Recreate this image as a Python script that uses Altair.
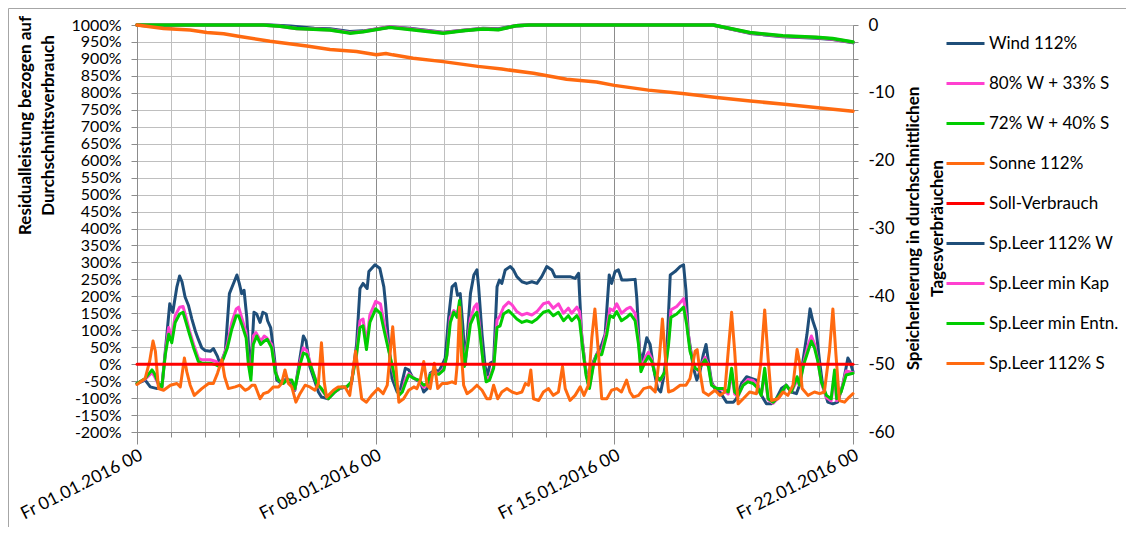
import json
import altair as alt
import pandas as pd

SERIES = ["Wind 112%", "80% W + 33% S", "72% W + 40% S", "Sonne 112%", "Soll-Verbrauch",
          "Sp.Leer 112% W", "Sp.Leer min Kap", "Sp.Leer min Entn.", "Sp.Leer 112% S"]
COLORS = ["#1F4E79", "#FF40D0", "#00CC00", "#FF6A10", "#FF0000",
          "#1F4E79", "#FF40D0", "#00CC00", "#FF6A10"]
X_LABELS = ["Fr 01.01.2016 00", "Fr 08.01.2016 00", "Fr 15.01.2016 00", "Fr 22.01.2016 00"]
X_TICKS = list(range(0, 22))
LEFT_TICKS = list(range(-200, 1001, 50))
RIGHT_TICKS = [-60, -57.5, -55, -52.5, -50, -47.5, -45, -42.5, -40, -37.5, -35, -32.5, -30,
               -27.5, -25, -22.5, -20, -17.5, -15, -12.5, -10, -7.5, -5, -2.5, 0]

# (day since 01.01.2016 00:00, residual load in %)
WIND_112 = [(0, -57), (0.24, -47), (0.39, -67), (0.59, -72), (0.73, -67), (0.83, 38), (0.96, 178), (1.05, 153),
            (1.17, 228), (1.25, 260), (1.32, 243), (1.41, 198), (1.51, 173), (1.61, 133), (1.71, 98), (1.8, 73),
            (1.9, 48), (2.0, 40), (2.15, 38), (2.24, 46), (2.36, 23), (2.44, -2), (2.59, 38), (2.71, 208),
            (2.83, 238), (2.93, 263), (3.0, 238), (3.07, 208), (3.14, 218), (3.22, 138), (3.3, 8), (3.34, -12),
            (3.43, 153), (3.51, 148), (3.61, 123), (3.69, 153), (3.79, 148), (3.83, 128), (3.92, 108), (4.02, 28),
            (4.1, -47), (4.24, -57), (4.39, -42), (4.54, -57), (4.63, -77), (4.78, 18), (4.88, 83), (4.96, 68),
            (5.07, -7), (5.22, -52), (5.32, -82), (5.41, -97), (5.61, -102), (5.8, -82), (5.95, -72), (6.15, -67),
            (6.29, -57), (6.44, 58), (6.54, 223), (6.63, 238), (6.75, 223), (6.8, 273), (6.98, 293), (7.12, 283),
            (7.24, 228), (7.29, 178), (7.39, 48), (7.48, -42), (7.63, -82), (7.73, -72), (7.87, -12), (7.97, -17),
            (8.07, -37), (8.2, -47), (8.31, -52), (8.41, -82), (8.51, -72), (8.6, -27), (8.75, -17), (8.85, -22),
            (8.95, -2), (9.04, 18), (9.14, 138), (9.24, 228), (9.34, 238), (9.4, 203), (9.48, 208), (9.56, 108),
            (9.63, -2), (9.7, 98), (9.78, 208), (9.88, 263), (9.97, 278), (10.02, 228), (10.12, 88), (10.21, -7),
            (10.28, -32), (10.36, 3), (10.46, 8), (10.56, 228), (10.63, 248), (10.7, 238), (10.8, 278), (10.95, 288),
            (11.04, 278), (11.14, 258), (11.29, 243), (11.43, 238), (11.58, 243), (11.73, 238), (11.87, 258),
            (12.02, 288), (12.17, 278), (12.26, 258), (12.41, 258), (12.56, 258), (12.7, 258), (12.85, 253),
            (12.95, 268), (13.04, 88), (13.14, -2), (13.24, -62), (13.39, 8), (13.48, 28), (13.63, 58), (13.73, 88),
            (13.85, 263), (13.92, 238), (14.02, 273), (14.12, 278), (14.22, 248), (14.37, 248), (14.61, 250),
            (14.66, 193), (14.74, 38), (14.81, 8), (14.95, 78), (15.05, 58), (15.15, -12), (15.27, -72), (15.36, -82),
            (15.44, -42), (15.54, 38), (15.64, 263), (15.78, 273), (15.93, 288), (16.03, 293), (16.1, 218),
            (16.17, 88), (16.32, -12), (16.42, -47), (16.51, -22), (16.61, 28), (16.69, 58), (16.76, 8), (16.85, -52),
            (16.95, -72), (17.1, -82), (17.29, -112), (17.49, -112), (17.58, -102), (17.73, -57), (17.88, -37),
            (18.02, -42), (18.17, -47), (18.26, -82), (18.46, -117), (18.6, -117), (18.75, -102), (18.9, -72),
            (19.04, -62), (19.19, -82), (19.34, -87), (19.43, -62), (19.53, 8), (19.65, 88), (19.74, 163),
            (19.82, 128), (19.92, 98), (20.02, 8), (20.11, -62), (20.26, -112), (20.41, -117), (20.55, -112),
            (20.7, -62), (20.85, 18), (20.91, 8), (21.0, -22)]

MIX_80W_33S = [(0, -57), (0.24, -44), (0.44, -25), (0.51, -35), (0.63, -60), (0.73, -68), (0.83, 33), (0.93, 108),
               (1.02, 78), (1.12, 143), (1.25, 168), (1.35, 170), (1.44, 138), (1.54, 98), (1.66, 58), (1.8, 18),
               (1.9, 13), (2.15, 13), (2.32, 8), (2.42, -2), (2.54, 23), (2.65, 58), (2.78, 123), (2.91, 163),
               (2.98, 168), (3.07, 138), (3.2, 93), (3.27, 3), (3.34, -32), (3.41, 83), (3.49, 93), (3.63, 68),
               (3.73, 83), (3.8, 78), (3.95, 58), (4.05, -17), (4.15, -47), (4.29, -57), (4.39, -45), (4.54, -50),
               (4.63, -74), (4.78, 5), (4.88, 48), (4.98, 40), (5.12, -10), (5.27, -55), (5.41, -75), (5.61, -102),
               (5.8, -82), (6.0, -68), (6.15, -67), (6.29, -54), (6.44, 35), (6.54, 128), (6.63, 133), (6.73, 60),
               (6.83, 145), (7.0, 185), (7.14, 178), (7.24, 125), (7.34, 70), (7.48, -10), (7.68, -88), (7.78, -80),
               (7.87, -45), (7.97, -28), (8.12, -42), (8.26, -48), (8.41, -68), (8.51, -62), (8.6, -30), (8.75, -24),
               (8.85, -28), (9.0, -12), (9.09, 25), (9.19, 138), (9.29, 158), (9.39, 148), (9.46, 175), (9.53, 88),
               (9.6, -5), (9.7, 70), (9.78, 135), (9.89, 168), (9.97, 178), (10.05, 110), (10.15, 5), (10.24, -45),
               (10.34, -38), (10.46, -8), (10.56, 130), (10.65, 143), (10.75, 168), (10.9, 183), (11.0, 175),
               (11.14, 155), (11.29, 145), (11.43, 150), (11.58, 145), (11.73, 155), (11.92, 178), (12.07, 183),
               (12.21, 165), (12.36, 178), (12.51, 150), (12.65, 165), (12.75, 150), (12.9, 168), (12.98, 155),
               (13.07, 58), (13.17, -25), (13.27, -68), (13.39, 2), (13.48, 30), (13.63, 38), (13.78, 105),
               (13.87, 163), (13.97, 158), (14.07, 178), (14.21, 150), (14.36, 163), (14.47, 168), (14.61, 150),
               (14.71, 70), (14.78, -10), (14.91, 20), (15.0, 35), (15.1, 15), (15.2, -28), (15.34, -50),
               (15.49, -22), (15.59, 70), (15.66, 160), (15.83, 170), (16.03, 193), (16.12, 135), (16.22, 45),
               (16.37, -12), (16.46, -20), (16.56, 0), (16.66, 20), (16.76, -3), (16.85, -58), (17.0, -72),
               (17.19, -75), (17.34, -88), (17.44, -25), (17.53, -88), (17.63, -95), (17.78, -60), (17.92, -45),
               (18.07, -48), (18.22, -65), (18.31, -92), (18.41, -25), (18.51, -105), (18.66, -115), (18.85, -95),
               (19.04, -62), (19.19, -82), (19.36, -48), (19.43, -62), (19.55, 2), (19.68, 55), (19.78, 83),
               (19.87, 60), (19.97, 10), (20.07, -55), (20.22, -98), (20.36, -108), (20.46, -30), (20.52, -108),
               (20.65, -80), (20.8, -20), (21.0, -25)]

MIX_72W_40S = [(0, -57), (0.24, -42), (0.44, -17), (0.51, -27), (0.63, -57), (0.73, -67), (0.83, 28), (0.93, 88),
               (1.02, 63), (1.12, 123), (1.25, 148), (1.35, 153), (1.44, 123), (1.54, 88), (1.66, 48), (1.8, 8),
               (1.9, 3), (2.15, 3), (2.32, -2), (2.42, -7), (2.54, 18), (2.65, 48), (2.78, 103), (2.91, 143),
               (2.98, 143), (3.07, 118), (3.2, 78), (3.27, -2), (3.34, -47), (3.41, 58), (3.51, 83), (3.63, 58),
               (3.73, 68), (3.82, 73), (3.95, 48), (4.05, -22), (4.15, -47), (4.29, -57), (4.39, -47), (4.54, -47),
               (4.63, -72), (4.78, -2), (4.88, 33), (4.98, 28), (5.12, -12), (5.27, -57), (5.41, -72), (5.61, -102),
               (5.8, -82), (6.0, -67), (6.15, -67), (6.29, -52), (6.44, 28), (6.54, 108), (6.63, 113), (6.73, 43),
               (6.83, 123), (7.0, 163), (7.14, 150), (7.24, 103), (7.34, 58), (7.48, -2), (7.68, -92), (7.78, -82),
               (7.87, -57), (7.97, -32), (8.12, -42), (8.26, -47), (8.41, -62), (8.51, -57), (8.6, -32), (8.75, -27),
               (8.85, -30), (9.0, -17), (9.09, 28), (9.19, 123), (9.29, 153), (9.39, 138), (9.46, 188), (9.53, 78),
               (9.6, -7), (9.7, 58), (9.78, 118), (9.89, 143), (9.97, 153), (10.05, 98), (10.15, 8), (10.24, -52),
               (10.34, -47), (10.46, -12), (10.56, 108), (10.65, 113), (10.75, 148), (10.9, 158), (11.0, 148),
               (11.14, 133), (11.29, 123), (11.43, 128), (11.58, 123), (11.73, 133), (11.92, 153), (12.07, 158),
               (12.21, 143), (12.36, 153), (12.51, 128), (12.65, 143), (12.75, 128), (12.9, 143), (12.98, 128),
               (13.07, 48), (13.17, -32), (13.27, -72), (13.39, -2), (13.48, 28), (13.63, 28), (13.78, 88),
               (13.87, 143), (13.97, 138), (14.07, 155), (14.21, 128), (14.36, 138), (14.47, 148), (14.61, 128),
               (14.71, 58), (14.78, -22), (14.91, 8), (15.0, 23), (15.1, 8), (15.2, -32), (15.34, -47), (15.49, -22),
               (15.59, 58), (15.66, 138), (15.83, 148), (16.03, 168), (16.12, 118), (16.22, 38), (16.37, -12),
               (16.46, -17), (16.56, -2), (16.66, 13), (16.76, -7), (16.85, -62), (17.0, -72), (17.19, -72),
               (17.34, -82), (17.44, -12), (17.53, -82), (17.63, -92), (17.78, -62), (17.92, -52), (18.07, -57),
               (18.22, -72), (18.31, -92), (18.41, -12), (18.51, -102), (18.66, -112), (18.85, -92), (19.04, -62),
               (19.19, -82), (19.36, -37), (19.43, -62), (19.55, -2), (19.68, 38), (19.78, 68), (19.87, 48),
               (19.97, 8), (20.07, -52), (20.22, -92), (20.36, -102), (20.46, -17), (20.52, -102), (20.65, -82),
               (20.8, -32), (21.0, -27)]

SONNE_112 = [(0, -60), (0.24, -42), (0.37, 8), (0.47, 68), (0.54, 38), (0.63, -72), (0.78, -77), (0.98, -62),
             (1.17, -57), (1.27, -67), (1.39, 18), (1.46, -22), (1.56, -62), (1.68, -92), (1.9, -72), (2.1, -57),
             (2.24, -57), (2.36, -27), (2.49, 13), (2.57, -37), (2.68, -72), (2.88, -67), (3.02, -62), (3.17, -77),
             (3.27, -72), (3.37, -62), (3.46, -62), (3.61, -102), (3.71, -87), (3.85, -82), (4.0, -67), (4.15, -67),
             (4.24, -57), (4.34, -17), (4.44, -57), (4.54, -67), (4.66, -112), (4.78, -87), (4.93, -62), (5.07, -67),
             (5.22, -77), (5.32, -57), (5.41, 63), (5.49, -52), (5.56, -97), (5.76, -77), (5.9, -67), (6.1, -67),
             (6.24, -92), (6.34, -17), (6.41, 38), (6.49, -22), (6.59, -102), (6.73, -112), (6.88, -92), (7.07, -72),
             (7.22, -87), (7.34, -62), (7.43, 38), (7.5, 110), (7.58, 8), (7.68, -112), (7.82, -102), (7.97, -77),
             (8.12, -67), (8.21, -72), (8.31, -47), (8.41, 8), (8.51, -62), (8.6, -72), (8.72, 3), (8.82, -72),
             (8.95, -57), (9.09, -57), (9.24, -52), (9.34, -57), (9.4, 8), (9.46, 168), (9.51, 38), (9.58, -62),
             (9.68, -87), (9.82, -77), (9.97, -62), (10.12, -77), (10.26, -102), (10.36, -102), (10.46, -62),
             (10.58, -102), (10.7, -82), (10.85, -72), (11.0, -82), (11.14, -87), (11.29, -82), (11.39, -57),
             (11.48, -62), (11.55, -17), (11.63, -102), (11.78, -107), (11.92, -82), (12.07, -72), (12.21, -92),
             (12.36, -82), (12.48, -7), (12.56, -72), (12.7, -107), (12.85, -92), (13.0, -67), (13.11, -92),
             (13.24, -62), (13.34, 78), (13.43, 163), (13.53, 38), (13.63, -102), (13.78, -102), (13.92, -77),
             (14.07, -72), (14.21, -82), (14.36, -47), (14.46, -82), (14.56, -97), (14.71, -92), (14.86, -72),
             (15.05, -67), (15.2, -82), (15.32, 18), (15.41, 133), (15.49, 28), (15.59, -82), (15.73, -77),
             (15.93, -62), (16.1, -62), (16.22, -42), (16.37, 38), (16.43, 43), (16.51, -22), (16.61, -82),
             (16.76, -92), (16.95, -77), (17.1, -92), (17.24, -82), (17.34, 38), (17.44, 153), (17.53, 38),
             (17.63, -117), (17.78, -102), (17.97, -82), (18.17, -87), (18.29, -2), (18.41, 160), (18.51, 18),
             (18.61, -107), (18.8, -102), (18.95, -82), (19.09, -92), (19.24, -62), (19.36, 43), (19.43, 8),
             (19.51, -72), (19.68, -92), (19.87, -82), (20.02, -87), (20.16, -82), (20.31, 38), (20.41, 163),
             (20.5, 28), (20.6, -107), (20.75, -112), (20.89, -97), (21.0, -87)]

SOLL = [(0, 0), (21, 0)]

# (day, storage drain in average daily consumptions)
SPL_112_W = [(0, 0), (0.4, -0.15), (0.8, -0.2), (1.2, 0), (3.8, 0), (4.5, -0.2), (5.2, -0.5), (5.66, -0.6),
             (6.24, -1.0), (6.63, -0.9), (7.41, -0.3), (8.0, -0.5), (8.98, -1.1), (9.56, -0.8), (10.15, -0.5),
             (10.6, -0.6), (11.12, -0.1), (11.5, 0), (16.9, 0), (17.97, -1.2), (18.94, -1.7), (19.92, -1.9),
             (20.4, -2.1), (21, -2.6)]
SPL_MIN_KAP = [(0, 0), (3.7, 0), (4.2, -0.2), (4.68, -0.5), (5.66, -0.7), (6.24, -1.15), (6.63, -0.95),
               (7.41, -0.3), (8.0, -0.6), (8.98, -1.15), (9.56, -0.8), (10.15, -0.55), (10.6, -0.65),
               (11.12, -0.1), (11.5, 0), (16.9, 0), (17.97, -1.15), (18.94, -1.65), (19.92, -1.85),
               (20.4, -2.05), (21, -2.55)]
SPL_MIN_ENTN = [(0, 0), (3.7, 0), (4.2, -0.2), (4.68, -0.5), (5.66, -0.75), (6.24, -1.2), (6.63, -1.0),
                (7.41, -0.35), (8.0, -0.65), (8.98, -1.2), (9.56, -0.85), (10.15, -0.6), (10.6, -0.7),
                (11.12, -0.1), (11.5, 0), (16.9, 0), (17.97, -1.1), (18.94, -1.6), (19.92, -1.8),
                (20.4, -2.0), (21, -2.5)]
SPL_112_S = [(0, 0), (0.78, -0.5), (1.56, -0.75), (2.05, -1.1), (2.54, -1.3), (3.02, -1.7), (3.9, -2.4),
             (4.98, -3.1), (5.66, -3.6), (6.44, -3.9), (7.02, -4.4), (7.3, -4.2), (7.5, -4.4), (8.1, -4.9),
             (8.98, -5.4), (10.0, -6.1), (10.7, -6.5), (11.63, -7.1), (12.6, -8.0), (13.48, -8.4), (14.0, -8.9),
             (15.0, -9.6), (16.0, -10.1), (17.0, -10.7), (17.99, -11.2), (18.99, -11.7), (19.98, -12.2),
             (21.0, -12.7)]

ALL = [WIND_112, MIX_80W_33S, MIX_72W_40S, SONNE_112, SOLL, SPL_112_W, SPL_MIN_KAP, SPL_MIN_ENTN, SPL_112_S]
rows = []
for name, pts in zip(SERIES, ALL):
    for d, v in pts:
        rows.append({"series": name, "day": d, "value": v})
df = pd.DataFrame(rows)

FONT = "Lato"
GRID = "#BFBFBF"
AXC = "#8C8C8C"
WEEK = "datum.value % 7 == 0"

label_arr = json.dumps(X_LABELS)
x_enc = alt.X(
    "day:Q",
    scale=alt.Scale(domain=[0, 21], nice=False, zero=False),
    axis=alt.Axis(
        values=X_TICKS, title=None,
        labelExpr=f"{WEEK} ? {label_arr}[datum.value / 7] : ''",
        labelAngle=-27, labelAlign="right", labelBaseline="top", labelPadding=2,
        labelFontSize=17.5, labelFont=FONT, labelColor="#000000",
        labelOverlap=False, labelFlush=False, labelBound=False,
        grid=True, gridOpacity=1, gridWidth=1,
        gridColor={"condition": {"test": WEEK, "value": "#8C8C8C"}, "value": GRID},
        tickSize={"condition": {"test": WEEK, "value": 12}, "value": 5},
        tickColor=AXC, domainColor=AXC,
    ),
)

color_enc = alt.Color(
    "series:N",
    scale=alt.Scale(domain=SERIES, range=COLORS),
    legend=alt.Legend(
        title=None, orient="none", legendX=808, legendY=-2, padding=0,
        symbolType="stroke", symbolSize=1444, symbolStrokeWidth=3, rowPadding=11,
        labelFontSize=17, labelFont=FONT, labelColor="#000000", labelOffset=3,
        labelLimit=300,
    ),
)

y_left = alt.Y(
    "value:Q",
    scale=alt.Scale(domain=[-200, 1000], nice=False, zero=False),
    axis=alt.Axis(
        orient="left", values=LEFT_TICKS, labelExpr="datum.value + '%'",
        labelFontSize=16, labelFont=FONT, labelColor="#000000", labelPadding=10,
        labelOverlap=False, labelFlush=False, labelBound=False,
        grid=True, gridColor=GRID, gridOpacity=1, gridWidth=1,
        tickColor=AXC, domainColor=AXC, tickSize=6,
        title=["Residualleistung bezogen auf", "Durchschnittsverbrauch"],
        titleFont=FONT, titleFontSize=17, titleFontWeight="bold", titleColor="#000000",
        titleLineHeight=23,
        titleAngle=-90, titleAlign="center", titleBaseline="middle", titleX=-112, titleY=100,
    ),
)

y_right = alt.Y(
    "value:Q",
    scale=alt.Scale(domain=[-60, 0], nice=False, zero=False),
    axis=alt.Axis(
        orient="right", values=RIGHT_TICKS, labelExpr="datum.value % 10 == 0 ? datum.value : ''",
        labelFontSize=17, labelFont=FONT, labelColor="#000000", labelPadding=10,
        labelOverlap=False, labelFlush=False, labelBound=False,
        grid=False, tickColor=AXC, domainColor=AXC, tickSize=5,
        title=["Speicherleerung in durchschnittlichen", "Tagesverbräuchen"],
        titleFont=FONT, titleFontSize=17, titleFontWeight="bold", titleColor="#000000",
        titleLineHeight=24,
        titleAngle=-90, titleAlign="center", titleBaseline="middle", titleX=60, titleY=203,
    ),
)

base = alt.Chart(df)


def line(name, y, width):
    return base.transform_filter(alt.datum.series == name).mark_line(
        strokeWidth=width, strokeJoin="round", strokeCap="round"
    ).encode(x=x_enc, y=y, color=color_enc, order="day:Q")


frame = alt.Chart(pd.DataFrame({"f": [0]})).mark_rect(
    filled=False, color="#A6A6A6", strokeWidth=1
).encode(x=alt.value(-128.5), x2=alt.value(1000), y=alt.value(-16.5), y2=alt.value(520))

left = alt.layer(
    line(SERIES[0], y_left, 3), line(SERIES[1], y_left, 3), line(SERIES[2], y_left, 3),
    line(SERIES[3], y_left, 3), line(SERIES[4], y_left, 3),
)
right = alt.layer(
    line(SERIES[5], y_right, 3.5), line(SERIES[6], y_right, 3.5),
    line(SERIES[7], y_right, 3.5), line(SERIES[8], y_right, 3.5),
)

chart = alt.layer(left, right, frame).resolve_scale(y="independent").properties(
    width=716, height=407,
    autosize=alt.AutoSizeParams(type="none"),
    padding={"left": 129, "top": 17, "right": 273, "bottom": 95},
).configure_view(stroke=None).configure(font=FONT)

chart.save("out.html", embed_options={"renderer": "svg", "actions": False})
